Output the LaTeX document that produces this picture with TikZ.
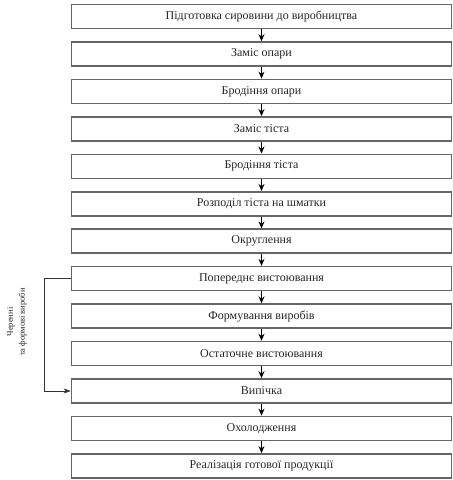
\documentclass[tikz,border=0pt]{standalone}
\usepackage{fontspec}
\setmainfont{Liberation Serif}
\usetikzlibrary{arrows.meta}
\begin{document}
\begin{tikzpicture}[x=1pt,y=-1pt,
  box/.style={draw=black!60, line width=1.6pt, minimum width=380pt, minimum height=24pt,
    inner sep=0pt, font=\fontsize{12}{14}\selectfont, text=black!85},
  conn/.style={draw=black, line width=1pt, -{Stealth[length=7pt,width=6pt]}},
  fb/.style={draw=black!80, line width=0.6pt, -{Stealth[length=7pt,width=5pt,inset=2pt]}}]
\useasboundingbox (0,0) rectangle (453,480);
\foreach \t [count=\i] in {
  Підготовка сировини до виробництва,
  Заміс опари,
  Бродіння опари,
  Заміс тіста,
  Бродіння тіста,
  Розподіл тіста на шматки,
  Округлення,
  Попереднє вистоювання,
  Формування виробів,
  Остаточне вистоювання,
  Випічка,
  Охолодження,
  Реалізація готової продукції}
  {\node[box] (b\i) at (261.5,{16.5+37.45*(\i-1)}) {\t};}
\foreach \i [evaluate=\i as \j using int(\i+1)] in {1,...,12}
  {\draw[conn] (b\i.south) -- (b\j.north);}
\draw[fb] (b8.west) -- ++(-26,0) |- (b11.west);
\node[rotate=90, align=center, font=\fontsize{8.5}{12}\selectfont, text=black!85] (lbl) at (17,322)
  {Черенні\\та формові вироби};
\end{tikzpicture}
\end{document}
